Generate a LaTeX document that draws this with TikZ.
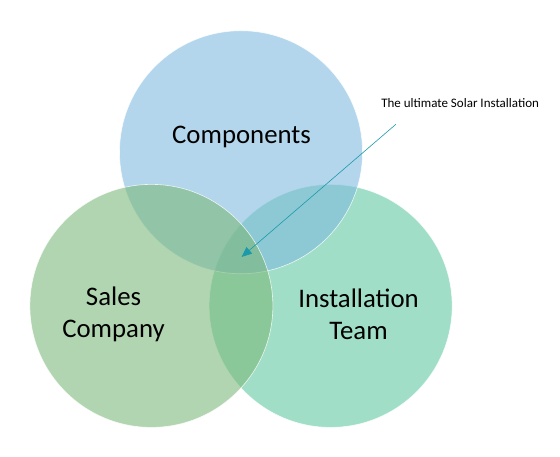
\documentclass[tikz,border=0pt]{standalone}
\usepackage{fontspec}
\setmainfont{Carlito}
\usepackage{xcolor}
\usetikzlibrary{arrows.meta}
\definecolor{compblue}{RGB}{128,187,223}
\definecolor{salesgreen}{RGB}{125,185,123}
\definecolor{instgreen}{RGB}{97,200,163}
\definecolor{callteal}{RGB}{26,154,170}
\tikzset{
  vc/.style={fill opacity=0.6,draw=white,draw opacity=0.8,line width=0.6pt},
  big/.style={font=\fontsize{26.8}{32}\selectfont,align=center,inner sep=0pt},
  small/.style={font=\fontsize{13}{15}\selectfont,inner sep=0pt},
  call/.style={callteal,line width=0.6pt,-{Triangle[length=3.6mm,width=3mm]}}
}
\newcommand{\vcirc}[3]{\filldraw[vc,fill=#1] (#2,#3) circle (4.27);}
\begin{document}
\begin{tikzpicture}
\useasboundingbox (0,0) rectangle (19.68,16.03);
\vcirc{instgreen}{11.62}{5.28}
\vcirc{compblue}{8.47}{10.68}
\vcirc{salesgreen}{5.32}{5.28}
\node[big,anchor=base] (comp) at (8.49,11.0) {Components};
\node[big] (sales) at (3.99,4.99) {Sales\\Company};
\node[big] (inst) at (12.60,4.99) {Installation\\Team};
\node[small] (ult) at (16.17,12.41) {The ultimate Solar Installation};
\coordinate (tail) at (13.91,11.66);
\coordinate (tip) at (8.49,7.00);
\draw[call] (tail) -- (tip);
\end{tikzpicture}
\end{document}
